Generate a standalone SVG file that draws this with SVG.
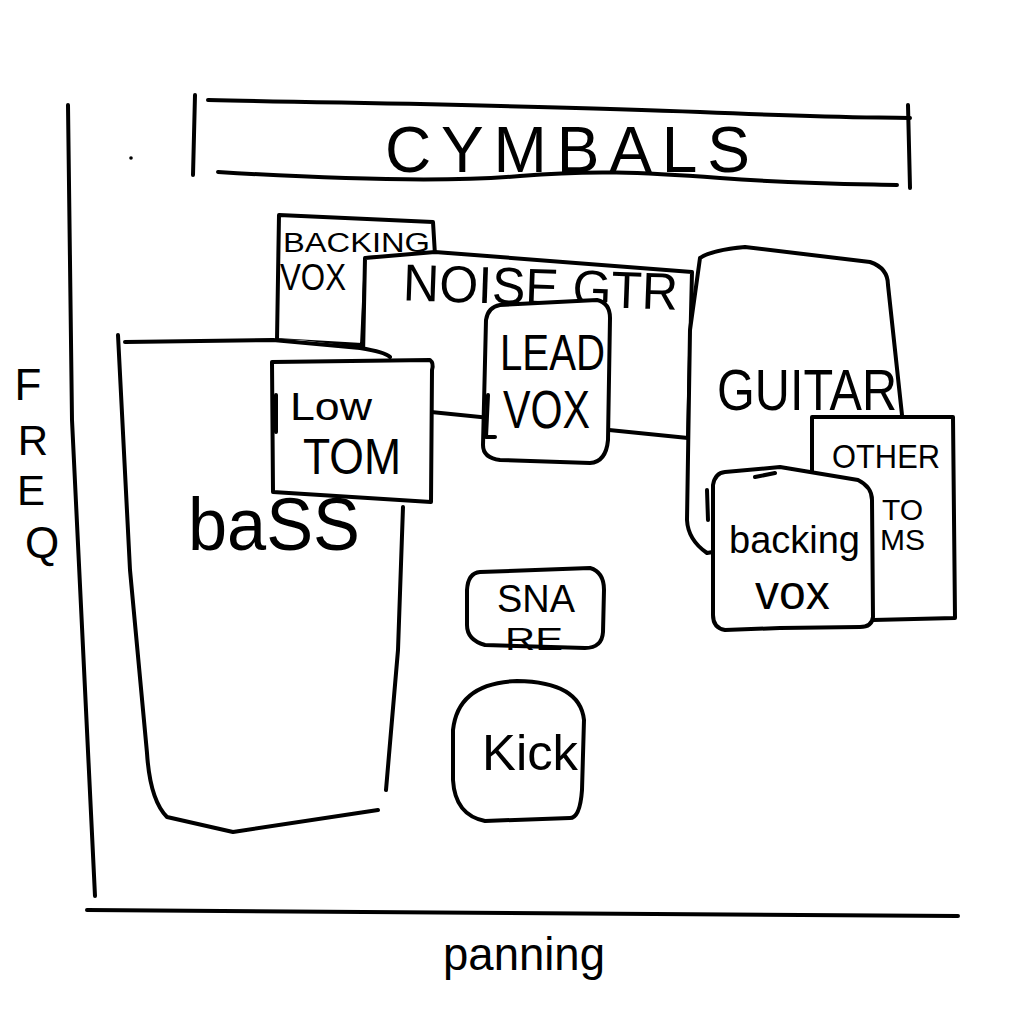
<svg xmlns="http://www.w3.org/2000/svg" width="1024" height="1024" viewBox="0 0 1024 1024">
<style>
.s{fill:none;stroke:#000;stroke-width:4;stroke-linecap:round;stroke-linejoin:round}
.f{fill:#fff;stroke:#000;stroke-width:4;stroke-linecap:round;stroke-linejoin:round}
.w{fill:#fff;stroke:none}
.t{font-family:"Liberation Sans","DejaVu Sans",sans-serif;fill:#000}
</style>
<rect width="1024" height="1024" fill="#fff"/>
<g id="axes">
<path class="s" d="M68,105 L72,420 L95,896"/>
<path class="s" d="M87,910 L958,916"/>
<circle cx="131" cy="158" r="1.8" fill="#000"/>
<text class="t" x="28" y="400" font-size="44" text-anchor="middle">F</text>
<text class="t" x="33" y="455" font-size="42" text-anchor="middle">R</text>
<text class="t" x="31" y="505" font-size="42" text-anchor="middle">E</text>
<text class="t" x="42" y="558" font-size="44" text-anchor="middle">Q</text>
<text class="t" x="443" y="970" font-size="46" textLength="162" lengthAdjust="spacingAndGlyphs">panning</text>
</g>
<g id="cymbals">
<path class="s" d="M208,100 C400,104 560,106 700,112 S860,117 910,118"/>
<path class="s" d="M218,172 C350,180 450,182 520,176 S640,172 720,178 S850,184 897,185"/>
<path class="s" d="M195,95 L193,175"/>
<path class="s" d="M908,105 L910,188"/>
<text class="t" x="385" y="172" font-size="64" textLength="365" lengthAdjust="spacing">CYMBALS</text>
</g>
<g id="connectors"></g>
<g id="backing-vox-left">
<path class="f" d="M279,215 L433,222 L435,255 L366,258 L362,345 L277,340 Z"/>
<text class="t" x="283" y="252" font-size="27" textLength="147" lengthAdjust="spacingAndGlyphs">BACKING</text>
<text class="t" x="280" y="290" font-size="36" textLength="66" lengthAdjust="spacingAndGlyphs">VOX</text>
</g>
<g id="noise-gtr">
<path class="f" d="M365,258 L435,252 L692,272 L688,438 L362,405 Z"/>
<text class="t" x="403" y="305" font-size="52" textLength="275" lengthAdjust="spacingAndGlyphs" transform="rotate(2 540 290)">NOISE GTR</text>
</g>
<g id="bass">
<path class="w" d="M120,336 L300,340 L385,350 L405,380 L405,505 L400,650 L388,800 L380,812 L233,832 L167,817 L150,800 L130,570 Z"/>
<path class="s" d="M118,335 L130,570 L147,753 Q150,800 167,817 L233,832 L378,810"/>
<path class="s" d="M125,342 L273,340 L360,348 Q385,352 390,357"/>
<path class="s" d="M403,507 L398,650 L386,790"/>
<text class="t" x="188" y="550" font-size="74" textLength="172" lengthAdjust="spacingAndGlyphs">baSS</text>
</g>
<g id="low-tom">
<path class="f" d="M272,362 L430,360 Q434,363 432,370 L431,502 L273,492 Z"/>
<path class="s" d="M276,395 L276,432"/>
<text class="t" x="290" y="420" font-size="38" textLength="82" lengthAdjust="spacingAndGlyphs">Low</text>
<text class="t" x="303" y="474" font-size="50" textLength="98" lengthAdjust="spacingAndGlyphs">TOM</text>
</g>
<g id="lead-vox">
<path class="f" d="M500,305 L597,300 Q610,303 610,318 L608,440 Q606,462 590,463 L500,460 Q483,458 483,445 L486,320 Q488,307 500,305 Z"/>
<path class="s" d="M488,395 L486,437 L495,437"/>
<text class="t" x="500" y="370" font-size="50" textLength="105" lengthAdjust="spacingAndGlyphs">LEAD</text>
<text class="t" x="503" y="428" font-size="54" textLength="87" lengthAdjust="spacingAndGlyphs">VOX</text>
</g>
<g id="guitar">
<path class="f" d="M700,258 Q712,250 745,247 L870,262 Q888,268 888,285 L902,415 L902,520 L707,553 Q688,540 687,520 L690,330 Z"/>
<text class="t" x="717" y="410" font-size="58" textLength="180" lengthAdjust="spacingAndGlyphs">GUITAR</text>
</g>
<g id="other-toms">
<path class="f" d="M812,417 L953,417 L955,618 L873,620 L812,620 Z"/>
<text class="t" x="832" y="468" font-size="34" textLength="108" lengthAdjust="spacingAndGlyphs">OTHER</text>
<text class="t" x="882" y="520" font-size="30">TO</text>
<text class="t" x="880" y="550" font-size="30">MS</text>
</g>
<g id="backing-vox-right">
<path class="f" d="M725,472 L780,467 L858,480 Q872,487 872,500 L873,617 Q872,627 860,627 L780,628 L725,630 Q713,628 713,615 L713,485 Q715,473 725,472 Z"/>
<path class="s" d="M707,490 L708,520"/>
<path class="s" d="M755,477 L775,473"/>
<text class="t" x="729" y="553" font-size="38">backing</text>
<text class="t" x="755" y="609" font-size="48">vox</text>
</g>
<g id="snare">
<path class="f" d="M480,572 L590,568 Q604,572 604,590 L603,632 Q602,648 585,648 L485,645 Q467,640 467,625 L467,590 Q468,573 480,572 Z"/>
<text class="t" x="497" y="612" font-size="38" textLength="78" lengthAdjust="spacingAndGlyphs">SNA</text>
<text class="t" x="505" y="650" font-size="32" textLength="58" lengthAdjust="spacingAndGlyphs">RE</text>
</g>
<g id="kick">
<path class="f" d="M517,681 Q580,682 584,720 L582,790 Q580,818 570,818 L485,821 Q455,815 453,780 L453,730 Q458,683 517,681 Z"/>
<text class="t" x="482" y="770" font-size="50" textLength="96" lengthAdjust="spacingAndGlyphs">Kick</text>
</g>
</svg>
